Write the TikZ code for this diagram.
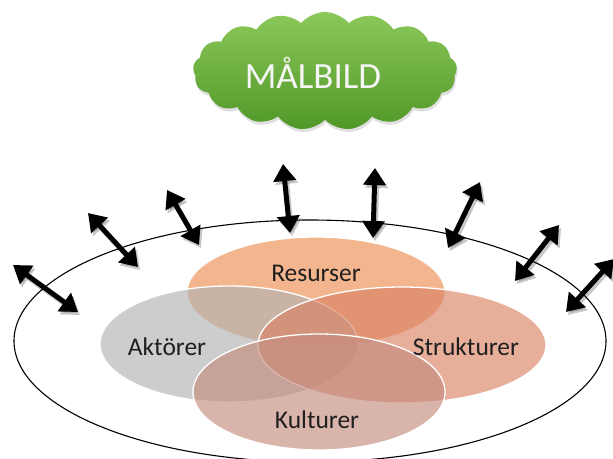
\documentclass[tikz,border=0pt]{standalone}
\usepackage{fontspec}
\setmainfont{Carlito}
\usetikzlibrary{shapes.geometric,shapes.symbols,arrows.meta,shadows}
\definecolor{resC}{RGB}{235,142,82}
\definecolor{strC}{RGB}{218,130,100}
\definecolor{aktC}{RGB}{178,178,178}
\definecolor{kulC}{RGB}{196,140,126}
\definecolor{cloudTop}{RGB}{140,200,90}
\definecolor{cloudBot}{RGB}{80,152,40}
\begin{document}
\begin{tikzpicture}[x=1pt,y=-1pt,
  blob/.style={ellipse, draw=white, line width=1.3pt, fill opacity=0.65, inner sep=0pt},
  lbl/.style={font=\fontsize{25.5}{29}\selectfont, text=black!88},
  dbl/.style={line width=5pt, black,
    {Triangle[length=17pt,width=22pt]}-{Triangle[length=17pt,width=22pt]}},
  dblshadow/.style={line width=5pt, black, opacity=0.22,
    {Triangle[length=17pt,width=22pt]}-{Triangle[length=17pt,width=22pt]}},
]
\useasboundingbox (0,0) rectangle (613,458);

% cloud
\node[cloud, cloud puffs=17, cloud puff arc=100, aspect=2.3,
      minimum width=264pt, minimum height=118pt, inner sep=0pt,
      top color=cloudTop, bottom color=cloudBot, draw=none,
      drop shadow={opacity=0.25, shadow xshift=1pt, shadow yshift=-3pt}]
      (cloud) at (325,71) {};
\node[font=\fontsize{37}{41}\selectfont, text=white!96!black] (goal) at (313,73) {MÅLBILD};

% outer ellipse
\node[ellipse, draw=black, line width=1.1pt, minimum width=592pt, minimum height=242pt, inner sep=0pt]
  (outer) at (310,341) {};

% inner ellipses
\node[blob, fill=resC, minimum width=258pt, minimum height=110pt] (res) at (316,292) {};
\node[blob, fill=aktC, minimum width=258pt, minimum height=116pt] (akt) at (229,344) {};
\node[blob, fill=strC, minimum width=288pt, minimum height=116pt] (str) at (402,345) {};
\node[blob, fill=kulC, minimum width=252pt, minimum height=116pt] (kul) at (319,392) {};

% labels
\node[lbl] (lres) at (316,273) {Resurser};
\node[lbl] (lakt) at (167,347) {Aktörer};
\node[lbl] (lstr) at (466,347) {Strukturer};
\node[lbl] (lkul) at (317,420) {Kulturer};

% arrow end points
\coordinate (a1s) at (13,265);  \coordinate (a1e) at (78,312);
\coordinate (a2s) at (88,213);  \coordinate (a2e) at (138,267);
\coordinate (a3s) at (167,190); \coordinate (a3e) at (199,245);
\coordinate (a4s) at (283,164); \coordinate (a4e) at (290,233);
\coordinate (a5s) at (375,168); \coordinate (a5e) at (373,238);
\coordinate (a6s) at (480,182); \coordinate (a6e) at (448,248);
\coordinate (a7s) at (559,225); \coordinate (a7e) at (515,281);
\coordinate (a8s) at (614,259); \coordinate (a8e) at (566,312);

% shadows
\foreach \i in {1,...,8}{
  \draw[dblshadow, transform canvas={shift={(2pt,-3pt)}}] (a\i s) -- (a\i e);
}
% arrows
\foreach \i in {1,...,8}{
  \draw[dbl] (a\i s) -- (a\i e);
}
\end{tikzpicture}
\end{document}
